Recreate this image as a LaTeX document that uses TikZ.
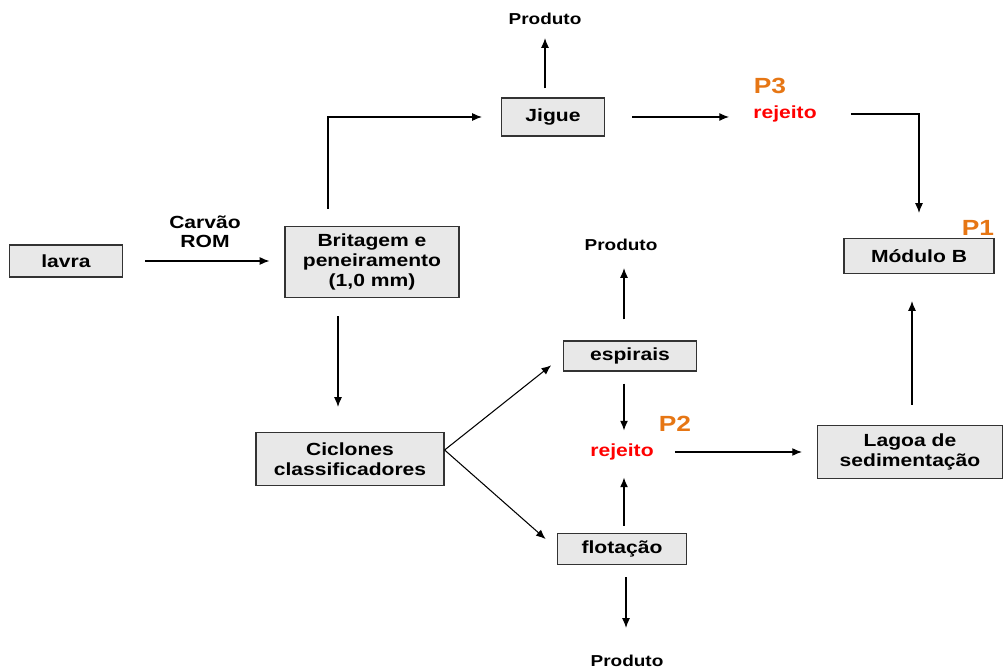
\documentclass[tikz,border=0pt]{standalone}
\usepackage{fontspec}
\setmainfont[FakeStretch=1.2]{Liberation Sans}
\usetikzlibrary{arrows.meta,positioning}
\definecolor{boxgray}{RGB}{232,232,232}
\definecolor{tagorange}{RGB}{230,118,20}
\tikzset{
  box/.style={draw=black!80,line width=0.7pt,fill=boxgray,inner sep=0pt,
    align=center,font=\fontsize{10}{11.3}\selectfont\bfseries},
  lbl/.style={inner sep=0pt,align=center,font=\fontsize{9}{10.5}\selectfont\bfseries},
  rej/.style={inner sep=0pt,text=red,font=\fontsize{10}{11}\selectfont\bfseries},
  ptag/.style={inner sep=0pt,text=tagorange,font=\fontsize{12.5}{13}\selectfont\bfseries},
  flow/.style={line width=0.6pt,-{Latex[length=5.5pt,width=4.5pt]}},
  plain/.style={line width=0.6pt}
}
\begin{document}
\begin{tikzpicture}[x=0.02cm,y=-0.02cm]
  \useasboundingbox (0,0) rectangle (1003,671);

  % boxes
  \node[box,minimum width=2.26cm,minimum height=0.64cm] (lavra) at (66,261) {lavra};
  \node[box,minimum width=3.48cm,minimum height=1.42cm] (britagem) at (372,262) {Britagem e\\peneiramento\\(1,0 mm)};
  \node[box,minimum width=2.06cm,minimum height=0.76cm] (jigue) at (553,117) {Jigue};
  \node[box,minimum width=3.76cm,minimum height=1.06cm] (ciclones) at (350,459) {Ciclones\\classificadores};
  \node[box,minimum width=2.66cm,minimum height=0.60cm] (espirais) at (630,356) {espirais};
  \node[box,minimum width=2.58cm,minimum height=0.62cm] (flotacao) at (622,549) {flotação};
  \node[box,minimum width=3.70cm,minimum height=1.06cm] (lagoa) at (910,452) {Lagoa de\\sedimentação};
  \node[box,minimum width=3.00cm,minimum height=0.70cm] (modulo) at (919,256) {Módulo B};

  % labels
  \node[lbl] (produtoA) at (545,19) {Produto};
  \node[lbl] (produtoB) at (621,245) {Produto};
  \node[lbl] (produtoC) at (627,661) {Produto};
  \node[lbl,font=\fontsize{10}{11}\selectfont\bfseries] (rom) at (205,232) {Carvão\\ROM};
  \node[rej] (rejA) at (785,114) {rejeito};
  \node[rej] (rejB) at (622,452) {rejeito};
  \node[ptag] (pA) at (770,86) {P3};
  \node[ptag] (pB) at (675,424) {P2};
  \node[ptag] (pC) at (978,228) {P1};

  % connectors
  \draw[flow,shorten <=0.44cm,shorten >=0.3cm] (lavra.east) -- (lavra.east -| britagem.west);
  \draw[flow,shorten <=0.34cm,shorten >=0.38cm] ([xshift=-0.88cm]britagem.north) |- (jigue.west);
  \draw[flow,shorten <=0.18cm,shorten >=0.26cm] (jigue.north -| produtoA) -- (produtoA.south);
  \draw[flow,shorten <=0.54cm,shorten >=0.48cm] (jigue.east) -- (jigue.east -| rejA.west);
  \draw[flow,shorten <=0.68cm,shorten >=0.5cm] (rejA.east) -| (modulo.north);
  \draw[flow,shorten <=0.36cm,shorten >=0.5cm] ([xshift=-0.68cm]britagem.south) -- ([xshift=-0.68cm]britagem.south |- ciclones.north);
  \draw[flow,shorten >=0.3cm] ([yshift=0.18cm]ciclones.east) -- (espirais.west);
  \draw[flow,shorten >=0.3cm] ([yshift=0.18cm]ciclones.east) -- (flotacao.west);
  \draw[flow,shorten <=0.42cm,shorten >=0.34cm] ([xshift=-0.12cm]espirais.north) -- ([xshift=-0.12cm]espirais.north |- produtoB.south);
  \draw[flow,shorten <=0.24cm,shorten >=0.26cm] ([xshift=-0.12cm]espirais.south) -- ([xshift=-0.12cm]espirais.south |- rejB.north);
  \draw[flow,shorten <=0.14cm,shorten >=0.34cm] ([xshift=0.04cm]flotacao.north) -- ([xshift=0.04cm]flotacao.north |- rejB.south);
  \draw[flow,shorten <=0.24cm,shorten >=0.54cm] ([xshift=0.08cm]flotacao.south) -- ([xshift=0.08cm]flotacao.south |- produtoC.north);
  \draw[flow,shorten <=0.42cm,shorten >=0.3cm] (rejB.east) -- (rejB.east -| lagoa.west);
  \draw[flow,shorten <=0.4cm,shorten >=0.54cm] ([xshift=0.04cm]lagoa.north) -- ([xshift=0.04cm]lagoa.north |- modulo.south);
\end{tikzpicture}
\end{document}
